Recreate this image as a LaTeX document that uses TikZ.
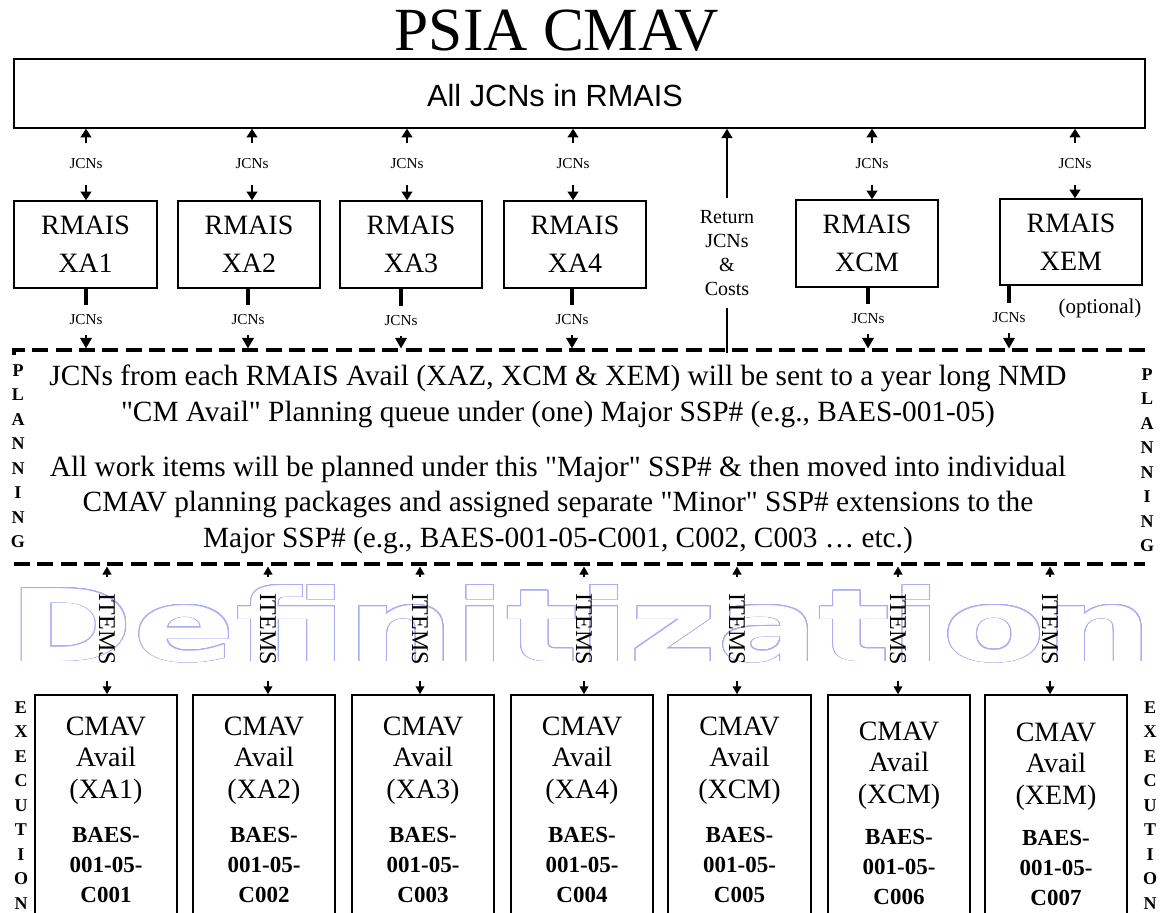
\documentclass[tikz,border=0pt]{standalone}
\usepackage{fontspec}
\setmainfont{Liberation Serif}[Ligatures=TeXOff]
\newfontfamily\sansf{Liberation Sans}
\newfontfamily\defont{DejaVu Sans}
\usepackage[copies]{contour}
\usetikzlibrary{arrows.meta}
\definecolor{lav}{RGB}{172,172,242}
\contourlength{0.5pt}
\contournumber{32}
\newcommand\mkbox[7]{\node[#2, minimum width={(#5-#3)*0.75pt}, minimum height={(#6-#4)*0.75pt}] (#1) at ({(#3+#5)/2},{(#4+#6)/2}) {#7};}
\begin{document}
\begin{tikzpicture}[x=0.75pt,y=-0.75pt,
 bx/.style={draw,line width=1.1pt,inner sep=0pt,align=center},
 rtext/.style={font=\fontsize{21}{28.5}\selectfont},
 ctext/.style={align=center,inner sep=0pt,font=\fontsize{21}{23.6}\selectfont},
 btext/.style={align=center,inner sep=0pt,font=\bfseries\fontsize{17.25}{22.5}\selectfont},
 jlab/.style={font=\fontsize{11.4}{13}\selectfont,inner xsep=1pt},
 jtop/.style={jlab,inner ysep=11.5pt},
 jbot/.style={jlab,inner ysep=7.5pt},
 fat/.style={line width=2.2pt,-{Triangle[width=8pt,length=6.5pt]}},
 stub/.style={line width=2.4pt},
 fatdown/.style={line width=2.2pt,-{Triangle[width=8.5pt,length=8pt]}},
 thinarr/.style={line width=1.4pt,-{Triangle[width=6.5pt,length=6pt]}},
 retline/.style={line width=1.5pt},
 dash line/.style={line width=2.3pt,dash pattern=on 12pt off 5.5pt},
 vlet/.style={align=center,inner sep=0pt,font=\bfseries\fontsize{13.5}{18.4}\selectfont},
 itemlab/.style={rotate=-90,inner xsep=11.5pt,inner ysep=2pt,font=\fontsize{18}{20}\selectfont},
 rtn/.style={align=center,inner xsep=2pt,inner ysep=9.4pt,font=\fontsize{15}{18}\selectfont},
]
\useasboundingbox (0,0) rectangle (1160,913);
\clip (0,0) rectangle (1160,913);

% watermark
\node[anchor=base, xscale=1.505, inner sep=0pt, text=white,
      font=\defont\bfseries\fontsize{75}{80}\selectfont] (defn) at (581,661) {\contour{lav}{Definitization}};

% title and top box
\node[anchor=base, inner sep=0pt, font=\fontsize{46}{50}\selectfont] (title) at (557,51) {PSIA CMAV};
\mkbox{top}{bx}{14}{59}{1145}{128}{}
\node[anchor=base, inner sep=0pt, font=\sansf\fontsize{23}{26}\selectfont] (alltxt) at (555,107) {All JCNs in RMAIS};

% RMAIS boxes
\mkbox{r1}{bx,rtext}{14}{201}{157}{288}{RMAIS\\XA1}
\mkbox{r2}{bx,rtext}{178}{201}{320}{288}{RMAIS\\XA2}
\mkbox{r3}{bx,rtext}{340}{201}{482}{288}{RMAIS\\XA3}
\mkbox{r4}{bx,rtext}{504}{201}{646}{288}{RMAIS\\XA4}
\mkbox{r5}{bx,rtext}{796}{200}{938}{287}{RMAIS\\XCM}
\mkbox{r6}{bx,rtext}{1000}{199}{1142}{285}{RMAIS\\XEM}
\node[anchor=base, inner sep=0pt, font=\fontsize{15.75}{18}\selectfont] (opt) at (1100,313) {(optional)};

% top JCNs connectors
\foreach \i/\x in {1/86,2/252,3/407,4/573,5/872,6/1075}{
  \node[jtop] (j\i) at (\x,164) {JCNs};
  \draw[fat] (j\i) -- (top.south -| j\i);
  \draw[fat] (j\i) -- (r\i.north -| j\i);
}

% dashed planning band
\coordinate (dtl0) at (14,355);
\coordinate (dtl) at (14,350);
\coordinate (dtr) at (1145,350);
\coordinate (dtr0) at (1145,355);
\coordinate (dbl) at (14,564);
\coordinate (dbr) at (1145,564);
\coordinate (dtip) at (0,348.5);
\coordinate (btip) at (0,566.5);
\draw[dash line] (dtl0) -- (dtl) -- (dtr) -- (dtr0);
\draw[dash line] (dbl) -- (dbr);

% lower JCNs connectors
\foreach \i/\x/\y in {1/86/320,2/248/320,3/401/321,4/572/320,5/868/319,6/1009/318}{
  \node[jbot] (k\i) at (\x,\y) {JCNs};
  \draw[stub] (r\i.south -| k\i) -- (k\i);
  \draw[fatdown] (k\i) -- (k\i |- dtip);
}

% return connector
\coordinate (rb) at (727,353);
\node[rtn] (ret) at (727,253) {Return\\JCNs\\\&\\Costs};
\draw[retline,-{Triangle[width=8pt,length=7pt]}] (ret) -- (top.south -| ret);
\draw[retline] (ret) -- (rb);

% planning text
\node[anchor=north, align=center, inner sep=0pt, font=\fontsize{22}{26.6}\selectfont] (plan) at (558,365)
 {JCNs from each RMAIS Avail (XAZ, XCM \& XEM) will be sent to a year long NMD\\
  "CM Avail" Planning queue under (one) Major SSP\# (e.g., BAES-001-05)\\[14.6pt]
  All work items will be planned under this "Major" SSP\# \& then moved into individual\\
  CMAV planning packages and assigned separate "Minor" SSP\# extensions to the\\
  Major SSP\# (e.g., BAES-001-05-C001, C002, C003 … etc.)};

\node[vlet, anchor=north] (plL) at (18,364) {P\\L\\A\\N\\N\\I\\N\\G};
\node[vlet, anchor=north] (plR) at (1147,368) {P\\L\\A\\N\\N\\I\\N\\G};
\node[vlet, anchor=north] (exL) at (21,701) {E\\X\\E\\C\\U\\T\\I\\O\\N};
\node[vlet, anchor=north] (exR) at (1150,701) {E\\X\\E\\C\\U\\T\\I\\O\\N};

% CMAV boxes
\foreach \i/\a/\b/\l/\d/\ax in {1/35/177/XA1/0/107, 2/193/335/XA2/0/268, 3/352/494/XA3/0/420, 4/511/653/XA4/0/584, 5/668/811/XCM/0/737, 6/828/970/XCM/5/898, 7/985/1127/XEM/6/1050}{
  \mkbox{c\i}{bx}{\a}{695}{\b}{935}{}
  \node[ctext,anchor=north] (ct\i) at ({(\a+\b)/2},716.5+\d) {CMAV\\Avail\\(\l)};
  \node[btext,anchor=north] (cb\i) at ({(\a+\b)/2},826.7+\d/2) {BAES-\\001-05-\\C00\i};
  \node[itemlab] (it\i) at (\ax,629) {ITEMS};
  \draw[thinarr] (it\i) -- (it\i |- btip);
  \draw[thinarr] (it\i) -- (c\i.north -| it\i);
}
\end{tikzpicture}
\end{document}
